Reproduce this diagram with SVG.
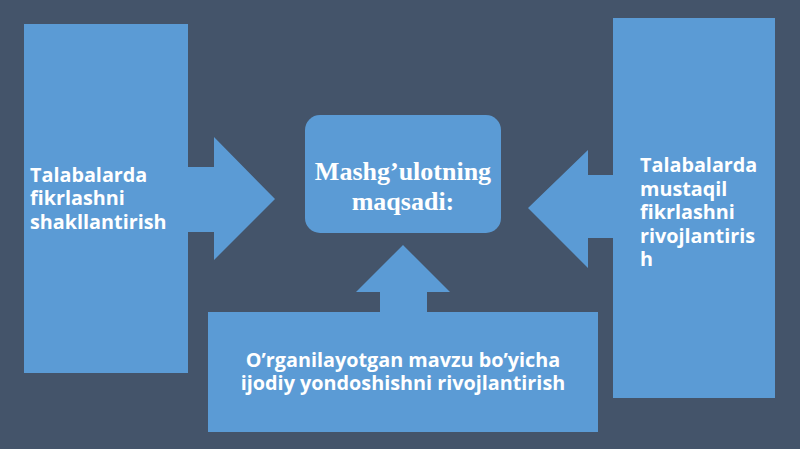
<svg xmlns="http://www.w3.org/2000/svg" width="800" height="449" viewBox="0 0 800 449">
<style>
.shape{fill:#5b9bd5}
.lbl{font-family:"Open Sans","Noto Sans","Liberation Sans",sans-serif;font-weight:700;font-size:19.8px;fill:#ffffff}
.title{font-family:"Liberation Serif","Times New Roman",serif;font-weight:bold;font-size:26px;fill:#ffffff}
</style>
<rect width="800" height="449" fill="#44546a"/>
<g id="connectors">
<polygon class="shape" points="186,167 214,167 214,137 275,199 214,260 214,232 186,232"/>
<polygon class="shape" points="615,175 588,175 588,150 528,208 588,268 588,238 615,238"/>
<polygon class="shape" points="380,314 380,292 356,292 403,245 450,292 427,292 427,314"/>
</g>
<g id="node-left">
<rect class="shape" x="24" y="24" width="164" height="349"/>
<text class="lbl" x="30"><tspan x="30" y="182">Talabalarda</tspan><tspan x="30" y="205">fikrlashni</tspan><tspan x="30" y="229">shakllantirish</tspan></text>
</g>
<g id="node-center">
<rect class="shape" x="305" y="115" width="196" height="118" rx="15"/>
<text class="title" text-anchor="middle"><tspan x="403" y="180">Mashg’ulotning</tspan><tspan x="403" y="210">maqsadi:</tspan></text>
</g>
<g id="node-right">
<rect class="shape" x="613" y="18" width="162" height="380"/>
<text class="lbl"><tspan x="640" y="172">Talabalarda</tspan><tspan x="640" y="196">mustaqil</tspan><tspan x="640" y="219">fikrlashni</tspan><tspan x="640" y="243">rivojlantiris</tspan><tspan x="640" y="266">h</tspan></text>
</g>
<g id="node-bottom">
<rect class="shape" x="208" y="312" width="390" height="120"/>
<text class="lbl" text-anchor="middle"><tspan x="403" y="367">O’rganilayotgan mavzu bo’yicha</tspan><tspan x="403" y="390">ijodiy yondoshishni rivojlantirish</tspan></text>
</g>
</svg>
